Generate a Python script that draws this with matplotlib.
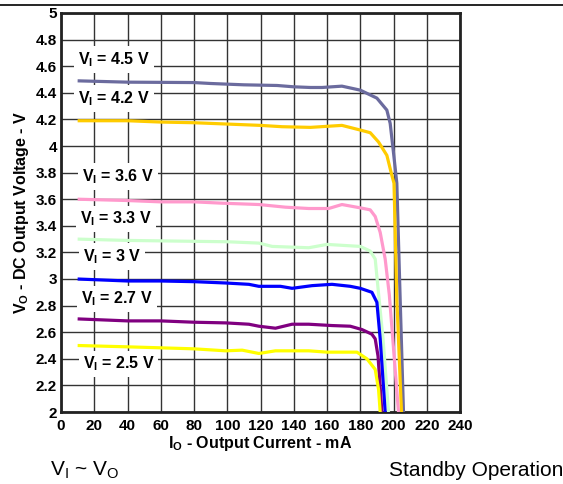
"""
plot.py — 输出电压 vs 输出电流曲线（V_I ~ V_O, Standby Operation）
"""
import matplotlib
matplotlib.use("Agg")
import matplotlib.pyplot as plt

plt.rcParams["font.family"] = ["Liberation Sans", "DejaVu Sans"]
plt.rcParams["mathtext.fontset"] = "custom"
plt.rcParams["mathtext.rm"] = "Liberation Sans"
plt.rcParams["mathtext.bf"] = "Liberation Sans:bold"

# 各输入电压下的曲线数据 (mA, V)
x_45 = [10, 40, 80, 90, 110, 130, 140, 150, 157, 169, 180, 190, 196, 198, 200, 202, 204, 206]
y_45 = [4.49, 4.48, 4.477, 4.47, 4.46, 4.455, 4.445, 4.44, 4.44, 4.45, 4.42, 4.36, 4.27, 4.17, 3.95, 3.72, 2.85, 2.0]

x_42 = [10, 40, 60, 80, 100, 120, 133, 150, 169, 180, 186, 191, 196, 199, 200.3, 202, 204.8]
y_42 = [4.19, 4.19, 4.18, 4.175, 4.165, 4.155, 4.145, 4.14, 4.155, 4.12, 4.10, 4.03, 3.93, 3.78, 3.72, 2.85, 2.0]

x_36 = [10, 40, 60, 80, 97, 119, 135, 149, 161, 169, 180, 186, 189, 192, 195, 197.5, 203]
y_36 = [3.60, 3.59, 3.58, 3.58, 3.57, 3.56, 3.54, 3.53, 3.53, 3.56, 3.535, 3.52, 3.47, 3.35, 3.15, 2.88, 2.0]

x_33 = [10, 40, 100, 119, 127, 149, 160, 180, 186, 189, 190.7, 193.7, 197]
y_33 = [3.30, 3.29, 3.28, 3.27, 3.245, 3.235, 3.26, 3.245, 3.21, 3.15, 2.93, 2.55, 2.0]

x_30 = [10, 40, 60, 80, 99, 113, 119, 132, 139, 151, 163, 174, 180, 187, 190, 192, 195]
y_30 = [3.00, 2.985, 2.985, 2.98, 2.97, 2.96, 2.945, 2.945, 2.93, 2.95, 2.96, 2.945, 2.93, 2.90, 2.825, 2.55, 2.0]

x_27 = [10, 40, 60, 80, 99, 113, 119, 129, 139, 149, 163, 174, 181, 187, 189, 190.7, 193]
y_27 = [2.70, 2.685, 2.685, 2.675, 2.67, 2.66, 2.645, 2.63, 2.66, 2.66, 2.65, 2.645, 2.62, 2.585, 2.55, 2.42, 2.0]

x_25 = [10, 40, 80, 99, 109, 119, 129, 149, 160, 178, 184, 189, 191, 192]
y_25 = [2.50, 2.49, 2.475, 2.46, 2.465, 2.44, 2.46, 2.46, 2.45, 2.45, 2.40, 2.32, 2.17, 2.0]

vin_labels = ["4.5", "4.2", "3.6", "3.3", "3", "2.7", "2.5"]
label_x = [10.2, 10.2, 12.6, 11.4, 13, 12, 13]
label_y = [4.65, 4.355, 3.77, 3.45, 3.17, 2.85, 2.36]

x_ticks = list(range(0, 241, 20))
y_ticks = [2, 2.2, 2.4, 2.6, 2.8, 3, 3.2, 3.4, 3.6, 3.8, 4, 4.2, 4.4, 4.6, 4.8, 5]

curves = [
    (x_45, y_45, "#6B6B9E"),
    (x_42, y_42, "#FFCC00"),
    (x_36, y_36, "#FF99CC"),
    (x_33, y_33, "#CCFFCC"),
    (x_30, y_30, "#0000FF"),
    (x_27, y_27, "#800080"),
    (x_25, y_25, "#FFFF00"),
]

fig = plt.figure(figsize=(5.63, 4.84), dpi=100)
ax = fig.add_axes([61 / 563, 1 - 412 / 484, 399 / 563, 399 / 484])

# 网格
ax.set_xlim(0, 240)
ax.set_ylim(2, 5)
ax.set_xticks(x_ticks)
ax.set_yticks(y_ticks)
ax.set_xticklabels([str(t) for t in x_ticks])
ax.set_yticklabels([f"{t:g}" for t in y_ticks])
ax.grid(True, color="#333333", linewidth=1.0)
ax.set_axisbelow(True)
ax.tick_params(length=0, labelsize=11)
ax.tick_params(axis="x", pad=5)
ax.tick_params(axis="y", pad=3)
for lab in ax.get_xticklabels() + ax.get_yticklabels():
    lab.set_fontweight("bold")
for sp in ax.spines.values():
    sp.set_linewidth(2)
    sp.set_color("#222222")

for xs, ys, c in curves:
    ax.plot(xs, ys, color=c, linewidth=2.3, solid_joinstyle="round",
            solid_capstyle="butt", zorder=3)

for v, lx, ly in zip(vin_labels, label_x, label_y):
    ax.text(lx, ly, r"$\mathbf{V_I}$ = " + v + " V", fontsize=11.5, fontweight="bold",
            ha="left", va="center", zorder=4,
            bbox=dict(boxstyle="square,pad=0.25", facecolor="white", edgecolor="none"))

ax.set_xlabel(r"$\mathbf{I_O}$ - Output Current - mA", fontsize=11.5, fontweight="bold", labelpad=1)
ax.set_ylabel(r"$\mathbf{V_O}$ - DC Output Voltage - V", fontsize=11.5, fontweight="bold", labelpad=3)

# 顶部横线与底部说明
fig.add_artist(plt.Line2D([0, 1], [1 - 4.5 / 484, 1 - 4.5 / 484], color="black", linewidth=1.2))
fig.text(50 / 563, 1 - 470 / 484, r"$\mathrm{V_I}$ ~ $\mathrm{V_O}$", fontsize=15, ha="left", va="center")
fig.text(1.0, 1 - 470 / 484, "Standby Operation", fontsize=15, ha="right", va="center")

fig.savefig("out.png", dpi=100)
